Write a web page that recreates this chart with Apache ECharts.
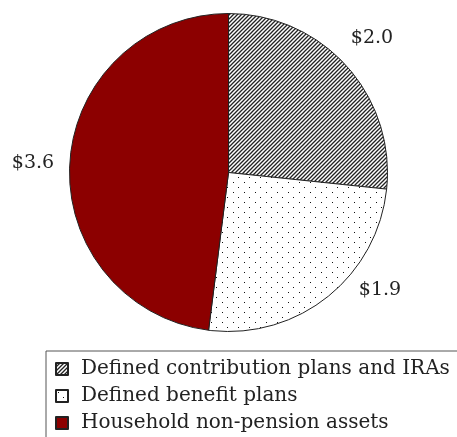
<!DOCTYPE html>
<html lang="en">
  <head>
    <meta charset="UTF-8" />
    <title>Pension assets</title>
    <script src="https://cdn.jsdelivr.net/npm/echarts@6/dist/echarts.min.js"></script>
    <style>
      html, body { margin: 0; padding: 0; background: #fff; }
    </style>
  </head>

  <body>
    <div id="main" style="width: 457px; height: 437px"></div>

    <script>
      // data (trillions of dollars)
      var categories = [
        "Defined contribution plans and IRAs",
        "Defined benefit plans",
        "Household non-pension assets",
      ];
      var values = [2.0, 1.9, 3.6];

      // hatched fill: "/" lines
      function hatchPattern() {
        var c = document.createElement("canvas");
        c.width = 4;
        c.height = 4;
        var ctx = c.getContext("2d");
        ctx.fillStyle = "#fff";
        ctx.fillRect(0, 0, 4, 4);
        ctx.strokeStyle = "#222";
        ctx.lineWidth = 1.3;
        ctx.beginPath();
        ctx.moveTo(-1, 5);
        ctx.lineTo(5, -1);
        ctx.moveTo(-1, 1);
        ctx.lineTo(1, -1);
        ctx.moveTo(3, 5);
        ctx.lineTo(5, 3);
        ctx.stroke();
        return c;
      }
      // dotted fill
      function dotPattern() {
        var c = document.createElement("canvas");
        c.width = 11;
        c.height = 10;
        var ctx = c.getContext("2d");
        ctx.fillStyle = "#fff";
        ctx.fillRect(0, 0, 11, 10);
        ctx.fillStyle = "#111";
        ctx.fillRect(2, 2, 1, 1);
        ctx.fillRect(7, 7, 1, 1);
        return c;
      }

      var fills = [
        { image: hatchPattern(), repeat: "repeat" },
        { image: dotPattern(), repeat: "repeat" },
        "#8c0000",
      ];
      // label anchor points (centre of text)
      var labelPos = [
        [372, 38],
        [380, 290],
        [33, 163],
      ];

      var chart = echarts.init(document.getElementById("main"));
      var option = {
        animation: false,
        legend: {
          orient: "vertical",
          left: 46,
          top: 351,
          height: 200,
          padding: [8, 40, 8, 9],
          borderColor: "#555",
          borderWidth: 1,
          itemWidth: 12,
          itemHeight: 12,
          itemGap: 7,
          icon: "rect",
          selectedMode: false,
          textStyle: {
            fontFamily: "DejaVu Serif",
            fontSize: 20,
            color: "#222",
            lineHeight: 20,
            padding: [0, 0, 0, 8],
          },
          data: categories,
        },
        series: [
          {
            type: "pie",
            center: [228.5, 172.5],
            radius: 159,
            startAngle: 90,
            clockwise: true,
            avoidLabelOverlap: false,
            itemStyle: { borderColor: "#222", borderWidth: 1 },
            label: {
              show: true,
              position: "inside",
              fontFamily: "DejaVu Serif",
              fontSize: 19,
              color: "#222",
              formatter: function (p) {
                return "$" + p.value.toFixed(1);
              },
            },
            labelLine: { show: false },
            labelLayout: function (p) {
              var pos = labelPos[p.dataIndex];
              return {
                x: pos[0],
                y: pos[1],
                align: "center",
                verticalAlign: "middle",
                hideOverlap: false,
              };
            },
            emphasis: { disabled: true },
            data: categories.map(function (name, i) {
              return {
                name: name,
                value: values[i],
                itemStyle: { color: fills[i] },
              };
            }),
          },
        ],
      };
      chart.setOption(option);
    </script>
  </body>
</html>
